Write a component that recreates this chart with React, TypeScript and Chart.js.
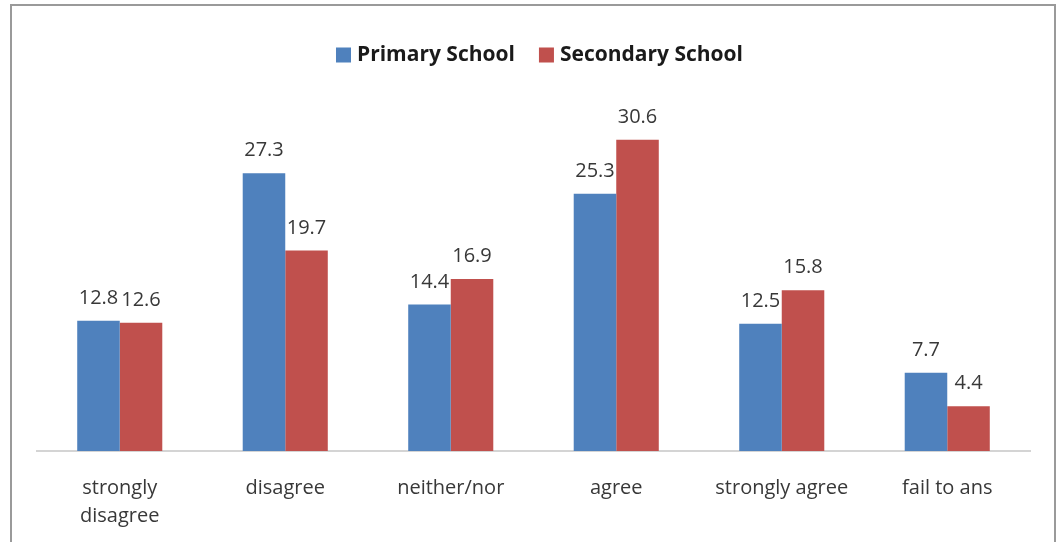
import React, { useEffect, useRef } from "react";
import { Chart, registerables } from "chart.js";

Chart.register(...registerables);

const categories: (string | string[])[] = [
  ["strongly", "disagree"],
  "disagree",
  "neither/nor",
  "agree",
  "strongly agree",
  "fail to ans",
];
const primarySchool = [12.8, 27.3, 14.4, 25.3, 12.5, 7.7];
const secondarySchool = [12.6, 19.7, 16.9, 30.6, 15.8, 4.4];
const seriesNames = ["Primary School", "Secondary School"];
const seriesColors = ["#4F81BD", "#C0504D"];

const FONT = "'Open Sans', Lato, sans-serif";
const TEXT = "#383838";

// Value labels above each bar, read from the dataset values
const valueLabels = {
  id: "valueLabels",
  afterDatasetsDraw(chart: Chart) {
    const ctx = chart.ctx;
    ctx.save();
    ctx.font = `20px ${FONT}`;
    ctx.fillStyle = TEXT;
    ctx.textAlign = "center";
    ctx.textBaseline = "alphabetic";
    chart.data.datasets.forEach((ds, di) => {
      const meta = chart.getDatasetMeta(di);
      meta.data.forEach((bar: any, i) => {
        const v = ds.data[i] as number;
        ctx.fillText(v.toFixed(1), bar.x, bar.y - 17);
      });
    });
    ctx.restore();
  },
};

// Centered legend row at the top
const topLegend = {
  id: "topLegend",
  afterDraw(chart: Chart) {
    const ctx = chart.ctx;
    ctx.save();
    ctx.font = `bold 21px ${FONT}`;
    ctx.textBaseline = "middle";
    const box = 15;
    const gapBox = 6;
    const gapItem = 24;
    const widths = seriesNames.map((n) => ctx.measureText(n).width);
    const total =
      widths.reduce((a, w) => a + box + gapBox + w, 0) + gapItem * (seriesNames.length - 1);
    let x = 335 + (744 - 335) / 2 - total / 2;
    const y = 55;
    seriesNames.forEach((n, i) => {
      ctx.fillStyle = seriesColors[i];
      ctx.fillRect(x, y - box / 2, box, box);
      x += box + gapBox;
      ctx.fillStyle = "#1a1a1a";
      ctx.textAlign = "left";
      ctx.fillText(n, x, y);
      x += widths[i] + gapItem;
    });
    ctx.restore();
  },
};

export default function App() {
  const ref = useRef<HTMLCanvasElement | null>(null);

  useEffect(() => {
    document.body.style.margin = "0";
    const chart = new Chart(ref.current!, {
      type: "bar",
      data: {
        labels: categories,
        datasets: [
          {
            label: seriesNames[0],
            data: primarySchool,
            backgroundColor: seriesColors[0],
            categoryPercentage: 0.514,
            barPercentage: 1,
          },
          {
            label: seriesNames[1],
            data: secondarySchool,
            backgroundColor: seriesColors[1],
            categoryPercentage: 0.514,
            barPercentage: 1,
          },
        ],
      },
      options: {
        animation: false,
        responsive: false,
        layout: { padding: { top: 95, left: 37, right: 28, bottom: 0 } },
        plugins: {
          legend: { display: false },
          tooltip: { enabled: false },
        },
        scales: {
          y: {
            display: false,
            min: 0,
            max: 35,
          },
          x: {
            grid: { display: false },
            border: { display: true, color: "#d4d4d4", width: 2 },
            ticks: {
              color: TEXT,
              font: { family: FONT, size: 20, lineHeight: 1.42 },
              padding: 15,
              maxRotation: 0,
              autoSkip: false,
            },
            afterFit: (scale: any) => {
              scale.height = 542 - 451;
            },
          },
        },
      },
      plugins: [valueLabels, topLegend],
    });
    return () => chart.destroy();
  }, []);

  return (
    <div style={{ position: "relative", width: 1058, height: 542, background: "#fff", overflow: "hidden" }}>
      <canvas ref={ref} width={1058} height={542} style={{ position: "absolute", left: 0, top: 0 }} />
      <div
        style={{
          position: "absolute",
          left: 10,
          top: 4,
          width: 1042,
          height: 560,
          border: "2px solid #9a9a9a",
          pointerEvents: "none",
        }}
      />
    </div>
  );
}
